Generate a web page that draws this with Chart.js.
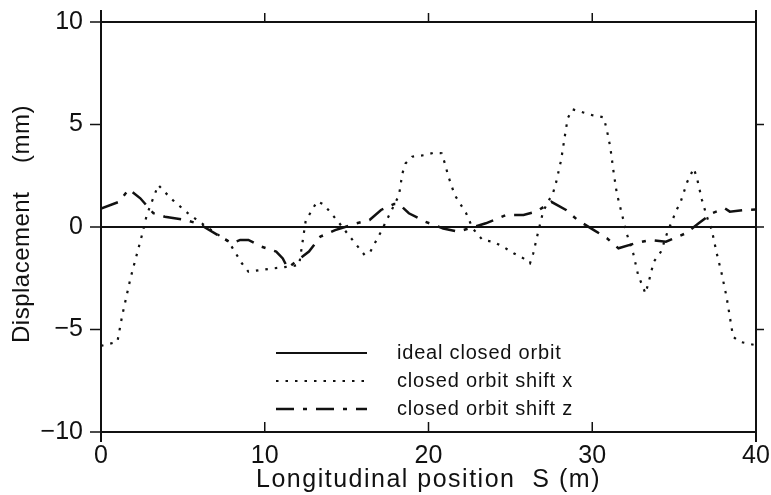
<!DOCTYPE html>
<html>
<head>
<meta charset="utf-8">
<title>Closed orbit displacement</title>
<script src="https://cdn.jsdelivr.net/npm/chart.js@4.4.1/dist/chart.umd.min.js"></script>
<style>
  html, body { margin: 0; padding: 0; background: #fff; }
  #wrap { width: 771px; height: 495px; position: relative; }
</style>
</head>
<body>
<div id="wrap"><canvas id="orbit" width="771" height="495"></canvas></div>
<script>
// 纵向位置 S (m)
const xTicks = [0, 10, 20, 30, 40];
const yTicks = [-10, -5, 0, 5, 10];

// 理想闭轨
const idealS = [0, 40];
const idealD = [0, 0];

// 闭轨偏移 x
const shiftXS = [0, 1.0, 1.3, 1.8, 2.5, 2.8, 3.5, 3.9, 4.4, 5.3, 6.0, 7.0, 7.8, 8.6, 9.0, 10.2, 11.4, 12.1,
  12.5, 13.2, 13.6, 14.4, 15.2, 16.1, 16.45, 17.05, 17.4, 18.2, 18.4, 18.6, 19.0, 19.7, 20.3, 20.8, 21.0,
  21.2, 21.6, 22.3, 22.7, 23.3, 23.95, 24.55, 25.2, 25.8, 26.2, 26.4, 26.7, 27.0, 27.3, 27.6, 27.8, 28.1,
  28.3, 28.5, 28.8, 29.4, 30.0, 30.7, 30.9, 31.1, 31.3, 31.5, 31.8, 32.1, 32.5, 32.8, 33.25, 33.45, 33.76,
  34.2, 34.6, 34.9, 35.1, 35.4, 35.8, 36.2, 36.4, 36.7, 37.0, 37.3, 37.6, 37.9, 38.2, 38.4, 38.6, 39.0, 39.9];
const shiftXD = [-5.8, -5.6, -4.3, -2.5, -0.4, 0.6, 2.05, 1.7, 1.3, 0.68, 0.26, -0.3, -0.72, -1.77, -2.18, -2.05, -1.94, -1.85,
  0.3, 1.25, 1.1, 0.34, -0.47, -1.37, -1.2, -0.3, 0.26, 1.56, 2.6, 3.1, 3.43, 3.5, 3.62, 3.6, 3.1,
  2.5, 1.56, 0.67, -0.07, -0.63, -0.72, -0.96, -1.28, -1.53, -1.77, -1.28, -0.23, 0.75, 1.23, 1.64, 2.2, 3.27,
  4.3, 5.3, 5.74, 5.6, 5.46, 5.35, 4.7, 3.9, 2.7, 1.64, 0.67, -0.31, -1.28, -2.34, -3.24, -2.67, -1.69,
  -1.2, -0.23, 0.34, 0.75, 1.23, 2.2, 2.86, 2.37, 1.32, 0.5, -0.15, -1.28, -2.26, -3.4, -4.37, -5.35, -5.6, -5.75];

// 闭轨偏移 z
const shiftZS = [0, 1.1, 1.7, 2.4, 3.2, 3.9, 5.0, 6.0, 6.3, 8.0, 8.5, 9.0, 9.8, 10.7, 11.1, 11.4, 12.7, 13.4,
  14.3, 14.9, 15.45, 16.4, 17.1, 17.9, 18.2, 18.8, 19.8, 20.9, 21.8, 23.5, 24.75, 25.8, 26.6, 27.5, 28.4,
  29.1, 30.1, 30.9, 31.6, 32.6, 33.55, 34.5, 35.7, 36.5, 37.3, 38.1, 38.4, 39.3, 40];
const shiftZD = [0.9, 1.23, 1.84, 1.4, 0.67, 0.5, 0.37, 0.15, 0.0, -0.8, -0.63, -0.63, -0.96, -1.2, -1.53, -2.0, -1.2, -0.47,
  -0.15, 0.0, 0.15, 0.34, 0.83, 1.12, 1.12, 0.67, 0.26, -0.07, -0.23, 0.18, 0.59, 0.59, 0.75, 1.23, 0.83,
  0.34, -0.15, -0.55, -1.04, -0.8, -0.63, -0.72, -0.31, 0.18, 0.67, 0.91, 0.75, 0.83, 0.85];

const legendLabels = ['ideal closed orbit', 'closed orbit shift x', 'closed orbit shift z'];
const xTitle = 'Longitudinal position  S (m)';
const yTitle = 'Displacement    (mm)';

const INK = '#111';
const FONT = '"Liberation Sans", Arial, sans-serif';
const DASH_X = [2.5, 7];
const DASH_Z = [18, 9, 4, 9];

function toPoints(xs, ys) {
  return xs.map((x, i) => ({ x: x, y: ys[i] }));
}

function fmt(v) {
  return v < 0 ? '\u2212' + Math.abs(v) : String(v);
}

// 边框、刻度、坐标轴标题和图例
const framePlugin = {
  id: 'frame',
  afterDatasetsDraw(chart) {
    const { ctx, chartArea: a, scales } = chart;
    const xs = scales.x, ys = scales.y;
    ctx.save();
    ctx.strokeStyle = INK;
    ctx.lineCap = 'butt';

    // 外框
    ctx.lineWidth = 2;
    ctx.beginPath();
    ctx.moveTo(a.left, a.top - 12); ctx.lineTo(a.left, a.bottom + 10);
    ctx.moveTo(a.right, a.top - 12); ctx.lineTo(a.right, a.bottom + 10);
    ctx.moveTo(a.left, a.top); ctx.lineTo(a.right, a.top);
    ctx.moveTo(a.left, a.bottom); ctx.lineTo(a.right, a.bottom);
    ctx.stroke();

    // 刻度线
    ctx.lineWidth = 1.5;
    ctx.beginPath();
    yTicks.forEach(v => {
      const py = ys.getPixelForValue(v);
      ctx.moveTo(a.left - 11, py); ctx.lineTo(a.left, py);
      if (v > -10 && v < 10) { ctx.moveTo(a.right, py); ctx.lineTo(a.right + 8, py); }
    });
    xTicks.forEach(v => {
      if (v === 0 || v === 40) return;
      const px = xs.getPixelForValue(v);
      ctx.moveTo(px, a.top - 9); ctx.lineTo(px, a.top);
      ctx.moveTo(px, a.bottom); ctx.lineTo(px, a.bottom - 10);
    });
    ctx.stroke();

    ctx.fillStyle = INK;
    ctx.textAlign = 'center';
    ctx.textBaseline = 'middle';

    // 横轴标题
    ctx.font = '25px ' + FONT;
    ctx.letterSpacing = '1.5px';
    ctx.fillText(xTitle, (a.left + a.right) / 2, 480);

    // 纵轴标题
    ctx.font = '24px ' + FONT;
    ctx.letterSpacing = '0.5px';
    ctx.translate(22, 224);
    ctx.rotate(-Math.PI / 2);
    ctx.fillText(yTitle, 0, 0);
    ctx.setTransform(1, 0, 0, 1, 0, 0);

    // 图例
    const rows = [353, 381, 409];
    const dashes = [[], DASH_X, DASH_Z];
    const widths = [2, 2.2, 2.5];
    ctx.font = '20px ' + FONT;
    ctx.letterSpacing = '0.8px';
    ctx.textAlign = 'left';
    rows.forEach((ry, i) => {
      ctx.lineWidth = widths[i];
      ctx.setLineDash(dashes[i]);
      ctx.beginPath();
      ctx.moveTo(276, ry); ctx.lineTo(367, ry);
      ctx.stroke();
      ctx.setLineDash([]);
      ctx.fillText(legendLabels[i], 397, ry);
    });
    ctx.letterSpacing = '0px';
    ctx.restore();
  }
};

const chart = new Chart(document.getElementById('orbit'), {
  type: 'scatter',
  data: {
    datasets: [{
      label: legendLabels[0],
      data: toPoints(idealS, idealD),
      showLine: true,
      borderColor: INK,
      borderWidth: 2,
      pointRadius: 0
    }, {
      label: legendLabels[1],
      data: toPoints(shiftXS, shiftXD),
      showLine: true,
      borderColor: INK,
      borderWidth: 2.2,
      borderDash: DASH_X,
      pointRadius: 0
    }, {
      label: legendLabels[2],
      data: toPoints(shiftZS, shiftZD),
      showLine: true,
      borderColor: INK,
      borderWidth: 2.5,
      borderDash: DASH_Z,
      pointRadius: 0
    }]
  },
  options: {
    responsive: false,
    animation: false,
    layout: { padding: { top: 22, right: 15, left: 0, bottom: 0 } },
    plugins: {
      legend: { display: false },
      tooltip: { enabled: false }
    },
    scales: {
      x: {
        type: 'linear',
        min: 0,
        max: 40,
        grid: { display: false, drawTicks: false },
        border: { display: false },
        afterBuildTicks: s => { s.ticks = xTicks.map(v => ({ value: v })); },
        ticks: {
          color: INK,
          padding: 9,
          maxRotation: 0,
          font: { family: FONT, size: 25 },
          callback: v => fmt(v)
        },
        afterFit: s => { s.height = 63; s.paddingLeft = 0; s.paddingRight = 0; }
      },
      y: {
        type: 'linear',
        min: -10,
        max: 10,
        grid: { display: false, drawTicks: false },
        border: { display: false },
        afterBuildTicks: s => { s.ticks = yTicks.map(v => ({ value: v })); },
        ticks: {
          color: INK,
          padding: 18,
          font: { family: FONT, size: 25 },
          callback: v => fmt(v)
        },
        afterFit: s => { s.width = 101; s.paddingTop = 0; s.paddingBottom = 0; }
      }
    }
  },
  plugins: [framePlugin]
});
</script>
</body>
</html>
